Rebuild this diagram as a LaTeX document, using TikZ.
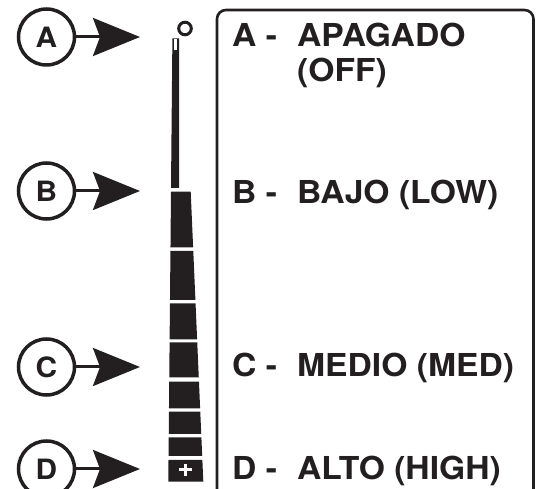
\documentclass[tikz,border=0pt]{standalone}
\usepackage{fontspec}
\setmainfont[FakeStretch=1.065]{TeX Gyre Heros}
\usetikzlibrary{arrows.meta}
\definecolor{ink}{HTML}{231F20}
\newcommand\mybarseg[2]{%
  \pgfmathsetmacro\mylA{171-(#1-191.7)*0.00931}%
  \pgfmathsetmacro\mylB{171-(#2-191.7)*0.00931}%
  \pgfmathsetmacro\myrA{190.7+(#1-191.7)*0.04345}%
  \pgfmathsetmacro\myrB{190.7+(#2-191.7)*0.04345}%
  \fill[ink] (\mylA,#1) -- (\myrA,#1) -- (\myrB,#2) -- (\mylB,#2) -- cycle;}
\begin{document}
\begin{tikzpicture}[x=1pt,y=-1pt,
  lab/.style={font=\fontsize{31.6}{36}\selectfont\bfseries, text=ink, inner sep=0pt, anchor=base west},
  circ/.style={circle, draw=ink, line width=3.5pt, minimum size=56pt, inner sep=0pt,
               font=\fontsize{28}{28}\selectfont\bfseries, text=ink},
  arr/.style={draw=ink, line width=3pt, -{Stealth[length=47pt,width=38pt,inset=7pt]}}]
\useasboundingbox (0,0) rectangle (539,489);
\clip (0,0) rectangle (539,489);

% panel
\draw[ink, line width=2.6pt, rounded corners=9pt] (217,10) rectangle (533.5,498);

% labels
\node[lab] (la) at (232,46.7) {A -};
\node[lab] (lat) at (297,46.7) {APAGADO};
\node[lab] (lat2) at (297,81.7) {(OFF)};
\node[lab] (lb) at (232,203.3) {B -};
\node[lab] (lbt) at (297,203.3) {BAJO (LOW)};
\node[lab] (lc) at (232,376.7) {C -};
\node[lab] (lct) at (297,376.7) {MEDIO (MED)};
\node[lab] (ld) at (232,480) {D -};
\node[lab] (ldt) at (297,480) {ALTO (HIGH)};

% circles and arrows
\node[circ] (ca) at (46.5,37) {A};
\coordinate (ta) at (140,37);
\draw[arr] (ca) -- (ta);
\node[circ] (cb) at (46.5,191) {B};
\coordinate (tb) at (140,191);
\draw[arr] (cb) -- (tb);
\node[circ] (cc) at (46.5,367) {C};
\coordinate (tc) at (140,367);
\draw[arr] (cc) -- (tc);
\node[circ] (cd) at (46.5,469) {D};
\coordinate (td) at (140,469);
\draw[arr] (cd) -- (td);

% off indicator
\draw[ink, line width=3pt] (185,28.5) circle (6.3);
\fill[ink] (172.4,38.3) -- (179,38.3) -- (179,188) -- (171.0,188) -- cycle;
\fill[white] (174,39.5) rectangle (177.3,50);

% level bar segments
\mybarseg{191.7}{247.3}
\mybarseg{251}{300}
\mybarseg{303.3}{339.3}
\mybarseg{342.3}{377.3}
\mybarseg{381.7}{408.3}
\mybarseg{411.7}{434}
\mybarseg{437.3}{456}
\mybarseg{460}{481.7}
\draw[white, line width=3pt] (179.4,470) -- (192.2,470) (185.8,463.6) -- (185.8,476.4);
\end{tikzpicture}
\end{document}
